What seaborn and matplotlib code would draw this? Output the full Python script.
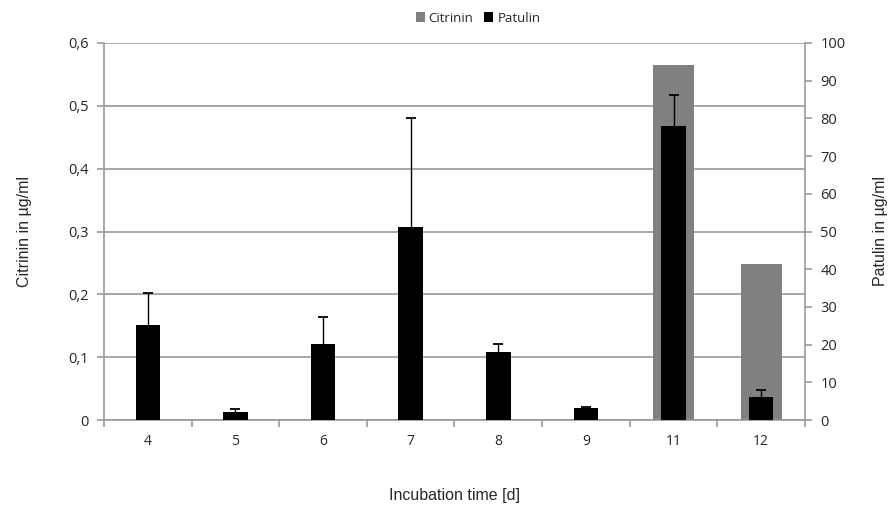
import matplotlib
matplotlib.use("Agg")
import matplotlib.pyplot as plt
import seaborn as sns
import pandas as pd
import numpy as np
from matplotlib.ticker import FuncFormatter, FixedLocator
from matplotlib.patches import Patch

days = ["4", "5", "6", "7", "8", "9", "11", "12"]
citrinin = [0, 0, 0, 0, 0, 0, 0.565, 0.248]
patulin = [25.2, 2.1, 20.2, 51.3, 18.0, 3.1, 78.1, 6.0]
patulin_err = [8.6, 0.9, 7.2, 28.9, 2.2, 0.3, 8.2, 1.9]

sns.set_theme(style="white")
plt.rcParams["font.family"] = ["Open Sans", "DejaVu Sans"]

text_color = "#262626"
line_color = "#9a9a9a"
label_font = ["Liberation Sans", "DejaVu Sans"]

df = pd.DataFrame({"day": days, "Citrinin": citrinin, "Patulin": patulin})

fig = plt.figure(figsize=(8.95, 5.08), dpi=100)
ax = fig.add_axes([104 / 895, 1 - 420 / 508, 701 / 895, 377 / 508])
ax2 = ax.twinx()

sns.barplot(data=df, x="day", y="Citrinin", color="#808080", width=0.47,
            saturation=1, linewidth=0, edgecolor="none", ax=ax, zorder=2)
sns.barplot(data=df, x="day", y="Patulin", color="#000000", width=0.28,
            saturation=1, linewidth=0, edgecolor="none", ax=ax2, zorder=3)

# upper-only error bars for patulin
xs = np.arange(len(days))
eb = ax2.errorbar(xs, patulin, yerr=[np.zeros(len(days)), patulin_err], fmt="none",
                  ecolor="black", elinewidth=1, capsize=3.5, capthick=1.3, zorder=4)
eb[1][0].set_visible(False)

ax.set_ylim(0, 0.6)
ax2.set_ylim(0, 100)
ax.set_xlim(-0.5, len(days) - 0.5)
ax.set_yticks(np.arange(0, 0.61, 0.1))
ax.yaxis.set_major_formatter(FuncFormatter(
    lambda v, p: "0" if abs(v) < 1e-9 else f"{v:.1f}".replace(".", ",")))
ax2.set_yticks(np.arange(0, 101, 10))

ax.grid(axis="y", color=line_color, linewidth=1.2, zorder=0)
ax.set_axisbelow(True)
ax.set_zorder(1)
ax2.set_zorder(2)
ax2.patch.set_visible(False)

for a in (ax, ax2):
    for s in a.spines.values():
        s.set_color(line_color)
        s.set_linewidth(1.2)
    a.spines["top"].set_visible(False)
ax.spines["right"].set_visible(False)
ax2.spines["left"].set_visible(False)
ax2.spines["bottom"].set_visible(False)

ax.xaxis.set_minor_locator(FixedLocator(np.arange(-0.5, len(days), 1.0)))
ax.tick_params(axis="x", which="major", length=0, pad=10, labelsize=10,
               labelcolor=text_color)
ax.tick_params(axis="x", which="minor", length=5, width=1.2, color=line_color,
               direction="out", bottom=True)
ax.tick_params(axis="y", length=5, width=1.2, color=line_color, direction="out",
               left=True, labelsize=10.5, labelcolor=text_color, pad=6)
ax2.tick_params(axis="y", length=5, width=1.2, color=line_color, direction="out",
                right=True, labelsize=10.5, labelcolor=text_color, pad=6)

ax.set_xlabel("Incubation time [d]", fontsize=11.5, family=label_font,
              color=text_color, labelpad=28)
ax.set_ylabel("Citrinin in µg/ml", fontsize=11.5, family=label_font,
              color=text_color, labelpad=26)
ax2.set_ylabel("Patulin in µg/ml", fontsize=11.5, family=label_font,
               color=text_color, labelpad=20)

handles = [Patch(facecolor="#808080", edgecolor="none", label="Citrinin"),
           Patch(facecolor="#000000", edgecolor="none", label="Patulin")]
fig.legend(handles=handles, loc="center", bbox_to_anchor=(478 / 895, 1 - 18 / 508),
           ncol=2, frameon=False, handlelength=0.7, handleheight=0.7,
           handletextpad=0.3, columnspacing=0.8, fontsize=9.5,
           labelcolor=text_color)

fig.savefig("out.png", dpi=100)
